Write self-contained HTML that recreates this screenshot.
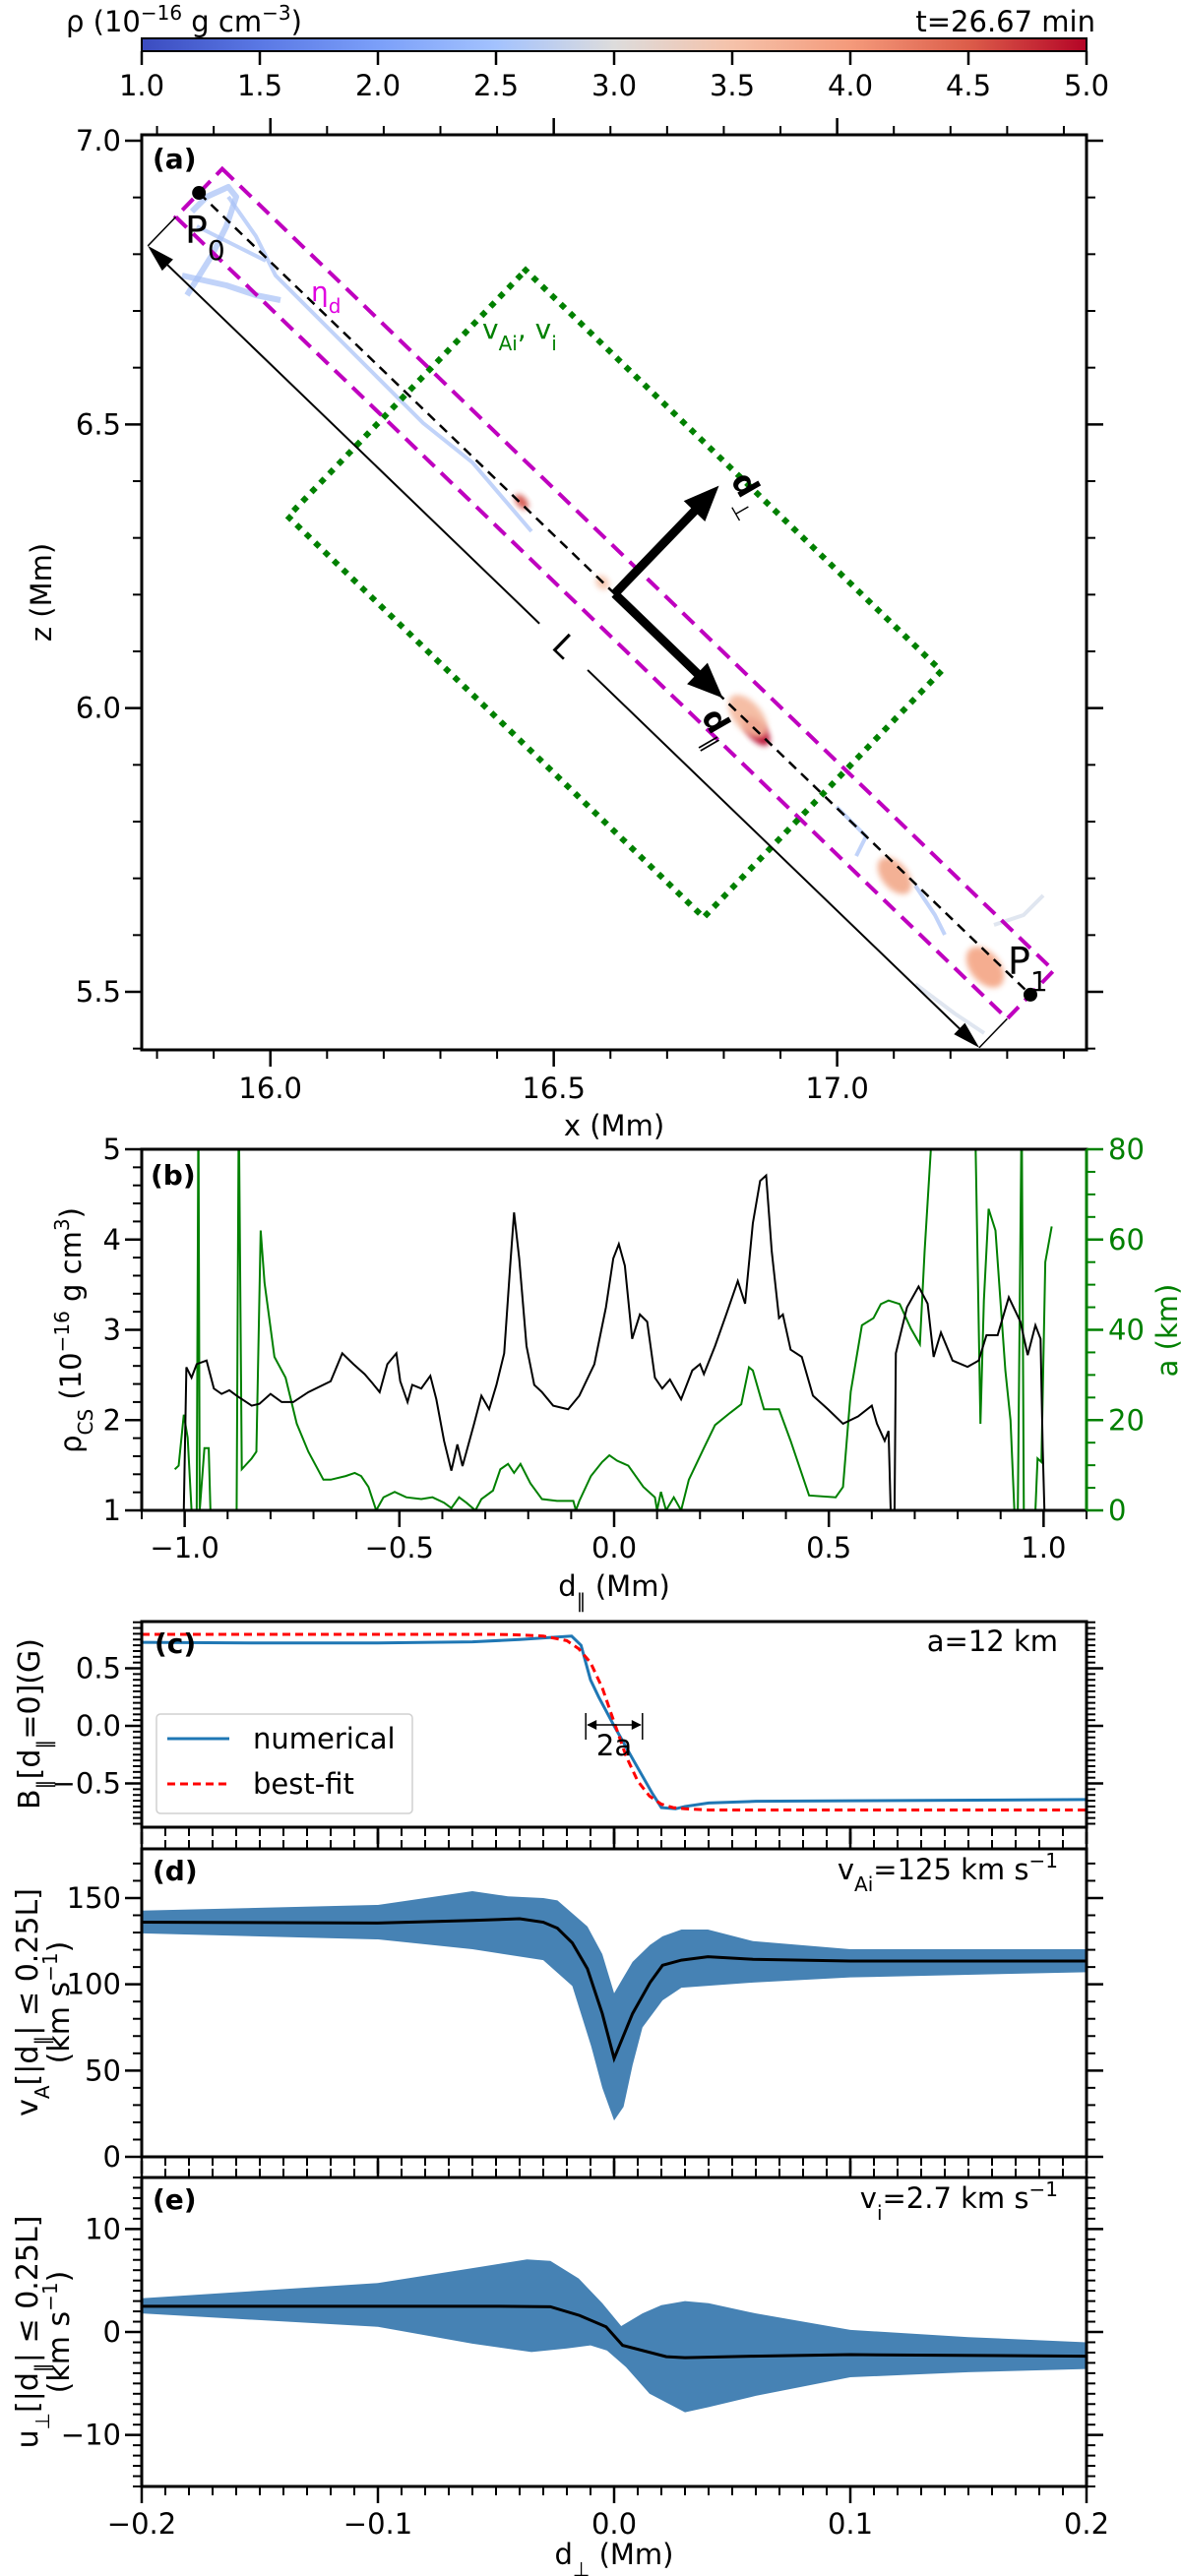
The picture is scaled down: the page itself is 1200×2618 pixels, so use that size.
<!DOCTYPE html>
<html><head><meta charset="utf-8"><title>Current sheet figure</title>
<style>
html,body{margin:0;padding:0;background:#fff;}
svg{display:block;font-family:"DejaVu Sans","Liberation Sans",sans-serif;}
</style></head>
<body>
<svg id="fig" width="1200" height="2618" viewBox="0 0 1200 2618" xmlns="http://www.w3.org/2000/svg">
<defs>
<linearGradient id="cw" x1="0" x2="1" y1="0" y2="0">
<stop offset="0" stop-color="#3b4cc0"/><stop offset="0.125" stop-color="#5a78e4"/><stop offset="0.25" stop-color="#7b9ff9"/><stop offset="0.375" stop-color="#a3c2fe"/><stop offset="0.5" stop-color="#dddcdc"/><stop offset="0.625" stop-color="#f5c2aa"/><stop offset="0.75" stop-color="#f49a7b"/><stop offset="0.875" stop-color="#dc5d4a"/><stop offset="1" stop-color="#b40426"/>
</linearGradient>
<filter id="blur" x="-50%" y="-50%" width="200%" height="200%"><feGaussianBlur stdDeviation="3"/></filter>
<clipPath id="clipA"><rect x="144" y="137" width="960" height="930"/></clipPath>
<clipPath id="clipB"><rect x="144" y="1168" width="960" height="367"/></clipPath>
<clipPath id="clipC"><rect x="144" y="1648" width="960" height="209"/></clipPath>
<clipPath id="clipD"><rect x="144" y="1879" width="960" height="313"/></clipPath>
<clipPath id="clipE"><rect x="144" y="2213" width="960" height="314"/></clipPath>
</defs>
</svg>
<script>
// ---------- DATA ----------
const cbTicks=[1.0,1.5,2.0,2.5,3.0,3.5,4.0,4.5,5.0];
const aXTicks=[16.0,16.5,17.0];
const aZTicks=[5.5,6.0,6.5,7.0];
const p0Data=[15.874,6.908];
const p1Data=[17.341,5.495];
const bXTicks=[-1.0,-0.5,0.0,0.5,1.0];
const bYTicks=[1,2,3,4,5];
const bY2Ticks=[0,20,40,60,80];
const rhoD=[-1.002,-0.996,-0.984,-0.972,-0.949,-0.932,-0.914,-0.896,-0.879,-0.844,-0.826,-0.8,-0.774,-0.747,-0.712,-0.66,-0.633,-0.607,-0.581,-0.563,-0.546,-0.528,-0.507,-0.498,-0.481,-0.47,-0.449,-0.428,-0.414,-0.396,-0.379,-0.365,-0.353,-0.326,-0.309,-0.291,-0.274,-0.256,-0.242,-0.233,-0.221,-0.204,-0.186,-0.168,-0.142,-0.107,-0.081,-0.046,-0.019,-0.002,0.011,0.025,0.042,0.06,0.077,0.095,0.112,0.13,0.156,0.182,0.2,0.209,0.235,0.261,0.288,0.305,0.323,0.34,0.354,0.367,0.384,0.393,0.411,0.437,0.463,0.498,0.533,0.568,0.6,0.612,0.63,0.639,0.644,0.653,0.656,0.682,0.709,0.73,0.744,0.761,0.788,0.823,0.849,0.867,0.893,0.919,0.946,0.963,0.981,0.993,0.998,1.002];
const rhoV=[1.0,2.585,2.47,2.62,2.66,2.35,2.29,2.33,2.27,2.16,2.18,2.29,2.2,2.2,2.31,2.43,2.74,2.62,2.51,2.41,2.31,2.62,2.74,2.43,2.2,2.39,2.35,2.49,2.23,1.77,1.44,1.73,1.49,1.96,2.27,2.12,2.39,2.74,3.71,4.30,3.79,2.82,2.39,2.31,2.16,2.12,2.27,2.62,3.25,3.79,3.95,3.71,2.9,3.17,3.09,2.47,2.35,2.45,2.23,2.55,2.62,2.51,2.82,3.17,3.54,3.29,4.18,4.65,4.71,3.87,3.13,3.17,2.78,2.70,2.27,2.12,1.96,2.04,2.16,1.96,1.77,1.88,1.0,1.0,2.74,3.25,3.48,3.29,2.70,2.97,2.66,2.59,2.66,2.94,2.94,3.36,3.09,2.72,3.05,2.9,1.69,1.0];
const aD=[-1.023,-1.014,-1.002,-0.993,-0.984,-0.972,-0.968,-0.965,-0.954,-0.944,-0.94,-0.879,-0.874,-0.867,-0.844,-0.833,-0.823,-0.814,-0.791,-0.765,-0.739,-0.712,-0.677,-0.66,-0.625,-0.604,-0.589,-0.572,-0.554,-0.537,-0.511,-0.484,-0.449,-0.423,-0.396,-0.379,-0.361,-0.344,-0.323,-0.309,-0.282,-0.265,-0.247,-0.233,-0.218,-0.195,-0.168,-0.133,-0.095,-0.089,-0.081,-0.054,-0.028,-0.011,0.007,0.033,0.068,0.095,0.1,0.109,0.121,0.139,0.156,0.174,0.209,0.235,0.27,0.296,0.314,0.323,0.349,0.384,0.411,0.454,0.516,0.533,0.551,0.577,0.604,0.621,0.639,0.665,0.691,0.712,0.723,0.744,0.84,0.853,0.861,0.872,0.888,0.911,0.923,0.932,0.94,0.949,0.954,0.981,0.986,0.995,1.004,1.019];
const aV=[9.1,9.9,21.2,16.1,0,0,90,0,13.8,13.8,0,0,90,9.1,11.5,13,62,50.4,34,29.4,19.2,13,6.8,6.8,7.6,8.3,7.6,5.2,0,2.9,4.1,2.9,2.5,2.9,1.7,0.5,2.9,1.7,0,2.5,4.4,9.1,10.3,8.3,10.3,6,2.5,2.1,2.1,0,2.1,7.6,10.7,12.2,11,9.9,5.2,2.9,0,4.1,0,2.9,0,6.8,13.8,18.9,21.6,23.5,31.7,31,22.4,22.4,15.4,3.3,2.9,5.2,26.3,41,42.6,45.7,46.5,45.7,40.3,36.8,57.4,90,90,19.2,46.5,66.8,62,31,20,0,0,90,0,0,11.5,10.7,55,62.9];
const cdXTicks=[-0.2,-0.1,0.0,0.1,0.2];
const cYTicks=[-0.5,0.0,0.5];
const numD=[-0.2,-0.15,-0.1,-0.06,-0.04,-0.025,-0.018,-0.014,-0.01,-0.0065,0,0.0085,0.016,0.02,0.026,0.03,0.04,0.06,0.1,0.2];
const numB=[0.725,0.72,0.72,0.73,0.75,0.77,0.78,0.70,0.40,0.25,0.0,-0.31,-0.58,-0.71,-0.72,-0.70,-0.67,-0.655,-0.65,-0.64];
const fitD=[-0.2,-0.05,-0.04,-0.03,-0.025,-0.02,-0.015,-0.01,-0.005,0,0.005,0.01,0.015,0.02,0.025,0.03,0.04,0.2];
const fitB=[0.795,0.795,0.79,0.78,0.76,0.74,0.67,0.55,0.33,0.033,-0.26,-0.48,-0.61,-0.68,-0.71,-0.72,-0.73,-0.73];
const dYTicks=[0,50,100,150];
const vaMeanD=[-0.2,-0.1,-0.06,-0.04,-0.03,-0.024,-0.0177,-0.0113,-0.005,0,0.0078,0.0152,0.0205,0.0285,0.0397,0.0588,0.1,0.2];
const vaMean=[136,135.5,137,138,136,132.5,124,109,83,57,83,101,111,114,116,114.5,113.5,113.5];
const vaUpD=[-0.2,-0.1,-0.06,-0.045,-0.03,-0.024,-0.0113,-0.005,0,0.0078,0.0152,0.0205,0.0285,0.0397,0.0588,0.1,0.2];
const vaUp=[142.7,146,154,151,150,148.6,133.5,117.5,94.8,113,122.8,127.8,131.7,131.7,125,120.3,120.3];
const vaLoD=[-0.2,-0.1,-0.06,-0.03,-0.0177,-0.0097,-0.005,0,0.004,0.0078,0.012,0.0205,0.0285,0.0588,0.1,0.2];
const vaLo=[129.5,126,120.3,114,99,64,40,21,29,53,75,90.7,98,101,104,107];
const eYTicks=[-10,0,10];
const uMeanD=[-0.2,-0.1,-0.05,-0.027,-0.0146,-0.0034,0.0036,0.0221,0.03,0.0588,0.1,0.2];
const uMean=[2.5,2.5,2.5,2.45,1.6,0.5,-1.3,-2.4,-2.5,-2.35,-2.2,-2.35];
const uUpD=[-0.2,-0.1,-0.06,-0.0369,-0.027,-0.015,-0.005,0.003,0.012,0.02,0.03,0.04,0.06,0.1,0.15,0.2];
const uUp=[3.27,4.75,6.2,7.05,6.9,5.2,2.8,0.57,1.8,2.6,3.0,2.8,1.8,0.2,-0.5,-1.0];
const uLoD=[-0.2,-0.1,-0.06,-0.035,-0.02,-0.01,-0.003,0.005,0.015,0.03,0.04,0.06,0.1,0.15,0.2];
const uLo=[1.8,0.5,-1.14,-1.95,-1.6,-1.3,-1.8,-3.4,-6.0,-7.8,-7.3,-6.2,-4.4,-3.9,-3.6];

// ---------- HELPERS ----------
const NS='http://www.w3.org/2000/svg';
const svg=document.getElementById('fig');
function el(tag,attrs,parent){const e=document.createElementNS(NS,tag);for(const k in attrs)e.setAttribute(k,attrs[k]);(parent||svg).appendChild(e);return e;}
function lin(d0,d1,p0,p1){return v=>p0+(v-d0)*(p1-p0)/(d1-d0);}
function rng(a,b,s){const r=[];const n=Math.round((b-a)/s);for(let i=0;i<=n;i++)r.push(a+i*s);return r;}
function group(name,clip){const g=el('g',clip?{'clip-path':'url(#'+clip+')'}:{});return g;}
function txt(x,y,s,opts,parent){const t=el('text',Object.assign({x:x,y:y,'font-size':29,fill:'#000'},opts||{}),parent);t.textContent=s;return t;}
function tk(g,x1,y1,x2,y2,w,col){const t=el('line',{x1:x1,y1:y1,x2:x2,y2:y2,stroke:col||'#000','stroke-width':w},g);return t;}
function fmt(v,d){return v.toFixed(d).replace('-','\u2212');}

function frame(ax,name){const r=el('rect',{x:ax.x0,y:ax.y0,width:ax.x1-ax.x0,height:ax.y1-ax.y0,fill:'none',stroke:'#000','stroke-width':3});}
function xticks(ax,sx,lo,hi,maj,minr,sides,name){
  const g=group(name);
  rng(lo,hi,minr).forEach(v=>{const isMaj=Math.abs(v/maj-Math.round(v/maj))<1e-6;const L=isMaj?17:9;const x=sx(v);if(x<ax.x0-1||x>ax.x1+1)return;
    sides.forEach(s=>{const t=(s==='b')?tk(g,x,ax.y1,x,ax.y1+L,isMaj?2.5:2):tk(g,x,ax.y0,x,ax.y0-L,isMaj?2.5:2);});});
}
function yticks(ax,sy,lo,hi,maj,minr,sides,name,col){
  const g=group(name);
  rng(lo,hi,minr).forEach(v=>{const isMaj=Math.abs(v/maj-Math.round(v/maj))<1e-6;const L=isMaj?17:9;const y=sy(v);if(y<ax.y0-1||y>ax.y1+1)return;
    sides.forEach(s=>{const t=(s==='l')?tk(g,ax.x0,y,ax.x0-L,y,isMaj?2.5:2):tk(g,ax.x1,y,ax.x1+L,y,isMaj?2.5:2,col);});});
}
function path(xs,ys,sx,sy){return xs.map((v,i)=>(i?'L':'M')+sx(v).toFixed(2)+','+sy(ys[i]).toFixed(2)).join(' ');}

// ---------- COLORBAR ----------
const cbx=lin(1,5,144,1104);
const cb=el('rect',{x:144,y:39,width:960,height:13,fill:'url(#cw)',stroke:'#000','stroke-width':2});


const cbt=group('colorbar-ticks');
cbTicks.forEach(v=>{const t=tk(cbt,cbx(v),52,cbx(v),66,2.5);
  const l=txt(cbx(v),97,v.toFixed(1),{'text-anchor':'middle'},cbt);});
const cbTitle=el('text',{x:67,y:32,'font-size':29});


cbTitle.innerHTML='ρ (10<tspan baseline-shift="super" font-size="20">−16</tspan> g cm<tspan baseline-shift="super" font-size="20">−3</tspan>)';
const tLab=txt(1113,32,'t=26.67 min',{'text-anchor':'end'});



// ---------- PANEL A ----------
const A={x0:144,x1:1104,y0:137,y1:1067};
const sxA=lin(15.773,17.440,A.x0,A.x1), szA=lin(7.0104,5.3977,A.y0,A.y1);
const gA=group('panel-a-content','clipA');
const P0=[sxA(p0Data[0]),szA(p0Data[1])], P1=[sxA(p1Data[0]),szA(p1Data[1])];
const Lpx=Math.hypot(P1[0]-P0[0],P1[1]-P0[1]);
const u=[(P1[0]-P0[0])/Lpx,(P1[1]-P0[1])/Lpx], n=[u[1],-u[0]];
const C=[(P0[0]+P1[0])/2,(P0[1]+P1[1])/2];
const pxPerMm=(A.x1-A.x0)/(17.440-15.773);
function pt(a,b){return [C[0]+u[0]*a+n[0]*b, C[1]+u[1]*a+n[1]*b];}
function rectPts(hl,hw){return [pt(-hl,hw),pt(hl,hw),pt(hl,-hw),pt(-hl,-hw)].map(p=>p.map(v=>v.toFixed(1)).join(',')).join(' ');}
const blobs=el('g',{},gA);


const streaks=[[[190,300],[215,260],[230,230],[240,200],[232,190],[210,200],[195,215]],[[185,280],[230,290],[260,300],[285,305]],[[232,200],[260,240],[280,280],[300,300],[330,330],[380,380],[430,430],[480,470],[540,540]],[[200,230],[240,250],[270,265]],[[850,820],[880,850],[870,870]],[[930,900],[950,930],[960,950]],[[1060,910],[1040,930],[1010,940]],[[930,1000],[970,1030],[1000,1050]]];
streaks.forEach((s,i)=>{const p=el('polyline',{points:s.map(q=>q.join(',')).join(' '),fill:'none',stroke:i>5?'#d3dbea':'#a7c1f7','stroke-width':i<2?6:4,'stroke-linejoin':'round',opacity:0.7},blobs);});
const spots=[[530,510,5,9,'#d1493f'],[769,743,9,18,'#b40426'],[760,728,14,26,'#f4b79c'],[909,890,13,22,'#f2a98a'],[1001,983,15,24,'#f4a584'],[612,592,6,8,'#f5c2aa']];
spots.forEach(s=>{const e=el('ellipse',{cx:s[0],cy:s[1],rx:s[2],ry:s[3],fill:s[4],transform:'rotate(-40 '+s[0]+' '+s[1]+')',filter:'url(#blur)',opacity:0.9},blobs);});
const mag=el('polygon',{points:rectPts(Lpx/2,0.059*pxPerMm),fill:'none',stroke:'#bf00bf','stroke-width':4,'stroke-dasharray':'16 9'},gA);


const grn=el('polygon',{points:rectPts(Lpx/4,0.302*pxPerMm),fill:'none',stroke:'#008000','stroke-width':6,'stroke-dasharray':'0.1 13','stroke-linecap':'square'},gA);


const cl=el('line',{x1:P0[0],y1:P0[1],x2:P1[0],y2:P1[1],stroke:'#000','stroke-width':2.5,'stroke-dasharray':'10 7'},gA);


const off=-0.13*pxPerMm, hw=0.059*pxPerMm;
const Lg=el('g',{},gA);


function seg(a,b,c,d,w){const p=pt(a,b),q=pt(c,d);return el('line',{x1:p[0],y1:p[1],x2:q[0],y2:q[1],stroke:'#000','stroke-width':w},Lg);}
seg(-Lpx/2+20,off,-34,off,2);seg(34,off,Lpx/2-20,off,2);
seg(-Lpx/2,off,-Lpx/2,-hw,1.5);seg(Lpx/2,off,Lpx/2,-hw,1.5);
function head(a,b,dir,len,wid,parent){const tip=pt(a,b),bl=pt(a-dir*len,b+wid),br=pt(a-dir*len,b-wid);return el('polygon',{points:[tip,bl,br].map(p=>p.join(',')).join(' '),fill:'#000'},parent);}
head(-Lpx/2,off,-1,28,8,Lg);head(Lpx/2,off,1,28,8,Lg);
const Lc=pt(0,off);
const Lt=txt(Lc[0],Lc[1]+10,'L',{'text-anchor':'middle','font-size':32,transform:'rotate(44 '+Lc[0]+' '+Lc[1]+')'},Lg);


const arrLen=0.265*pxPerMm;
const dg=el('g',{},gA);


const e1=pt(0,arrLen-32), e2=pt(arrLen-32,0);
el('line',{x1:C[0],y1:C[1],x2:e1[0],y2:e1[1],stroke:'#000','stroke-width':9},dg);
el('line',{x1:C[0],y1:C[1],x2:e2[0],y2:e2[1],stroke:'#000','stroke-width':9},dg);
[[pt(0,arrLen),pt(-15,arrLen-36),pt(15,arrLen-36)],[pt(arrLen,0),pt(arrLen-36,15),pt(arrLen-36,-15)]].forEach(h=>el('polygon',{points:h.map(p=>p.join(',')).join(' '),fill:'#000'},dg));
const dp=el('text',{x:742,y:488,'font-size':32,'font-weight':'bold',transform:'rotate(60 742 488)'},dg);


dp.innerHTML='d<tspan baseline-shift="sub" font-size="22" font-weight="normal">⊥</tspan>';
const dpl=el('text',{x:712,y:728,'font-size':32,'font-weight':'bold',transform:'rotate(60 712 728)'},dg);


dpl.innerHTML='d<tspan baseline-shift="sub" font-size="22" font-weight="normal">∥</tspan>';
[[P0,'p0'],[P1,'p1']].forEach(q=>{const c=el('circle',{cx:q[0][0],cy:q[0][1],r:7,fill:'#000'},gA);});
const p0l=el('text',{x:188,y:247,'font-size':38},gA);


p0l.innerHTML='P<tspan baseline-shift="sub" font-size="28">0</tspan>';
const p1l=el('text',{x:1024,y:990,'font-size':38},gA);


p1l.innerHTML='P<tspan baseline-shift="sub" font-size="28">1</tspan>';
const eta=el('text',{x:316,y:306,'font-size':28,fill:'#e000e0'},gA);


eta.innerHTML='η<tspan baseline-shift="sub" font-size="20">d</tspan>';
const vlab=el('text',{x:490,y:344,'font-size':28,fill:'#008000'},gA);


vlab.innerHTML='v<tspan baseline-shift="sub" font-size="20">Ai</tspan>, v<tspan baseline-shift="sub" font-size="20">i</tspan>';
frame(A,'panel-a-frame');
xticks(A,sxA,15.8,17.4,0.5,0.1,['b','t'],'panel-a-x-ticks');
yticks(A,szA,5.4,7.0,0.5,0.1,['l','r'],'panel-a-y-ticks');
aXTicks.forEach(v=>{const t=txt(sxA(v),1116,v.toFixed(1),{'text-anchor':'middle'});});
aZTicks.forEach(v=>{const t=txt(123,szA(v)+10,v.toFixed(1),{'text-anchor':'end'});});
const aXl=txt(624,1154,'x (Mm)',{'text-anchor':'middle'});


const aYl=txt(0,0,'z (Mm)',{'text-anchor':'middle',transform:'translate(52,602) rotate(-90)'});


const aTag=txt(155,171,'(a)',{'font-weight':'bold','font-size':28});



// ---------- PANEL B ----------
const B={x0:144,x1:1104,y0:1168,y1:1535};
const sxB=lin(-1.1,1.1,B.x0,B.x1), syB=lin(1,5,B.y1,B.y0), sy2B=lin(0,80,B.y1,B.y0);
const gB=group('panel-b-content','clipB');
const gl=el('path',{d:path(aD,aV,sxB,sy2B),fill:'none',stroke:'#008000','stroke-width':2},gB);


const bl=el('path',{d:path(rhoD,rhoV,sxB,syB),fill:'none',stroke:'#000','stroke-width':2},gB);


frame(B,'panel-b-frame');
xticks(B,sxB,-1.1,1.1,0.5,0.1,['b'],'panel-b-x-ticks');
yticks(B,syB,1,5,1,0.2,['l'],'panel-b-y-ticks');
yticks(B,sy2B,0,80,20,5,['r'],'panel-b-y2-ticks','#008000');
const rsp=el('line',{x1:B.x1,y1:B.y0,x2:B.x1,y2:B.y1,stroke:'#008000','stroke-width':3});


bXTicks.forEach(v=>{const t=txt(sxB(v),1583,fmt(v,1),{'text-anchor':'middle'});});
bYTicks.forEach(v=>{const t=txt(123,syB(v)+10,String(v),{'text-anchor':'end'});});
bY2Ticks.forEach(v=>{const t=txt(1126,sy2B(v)+10,String(v),{fill:'#008000'});});
const bXl=el('text',{x:624,y:1622,'font-size':29,'text-anchor':'middle'});


bXl.innerHTML='d<tspan baseline-shift="sub" font-size="20">∥</tspan> (Mm)';
const bYl=el('text',{'font-size':29,'text-anchor':'middle',transform:'translate(82,1352) rotate(-90)'});


bYl.innerHTML='ρ<tspan baseline-shift="sub" font-size="20">CS</tspan> (10<tspan baseline-shift="super" font-size="20">−16</tspan> g cm<tspan baseline-shift="super" font-size="20">3</tspan>)';
const bY2l=txt(0,0,'a (km)',{'text-anchor':'middle',fill:'#008000',transform:'translate(1196,1352) rotate(-90)'});


const bTag=txt(153,1204,'(b)',{'font-weight':'bold','font-size':28});



// ---------- PANEL C ----------
const Cx={x0:144,x1:1104,y0:1648,y1:1857};
const sxC=lin(-0.2,0.2,Cx.x0,Cx.x1), syC=lin(-0.880,0.906,Cx.y1,Cx.y0);
const gC=group('panel-c-content','clipC');
const nl=el('path',{d:path(numD,numB,sxC,syC),fill:'none',stroke:'#1f77b4','stroke-width':3},gC);


const fl=el('path',{d:path(fitD,fitB,sxC,syC),fill:'none',stroke:'#ff0000','stroke-width':3,'stroke-dasharray':'8 5'},gC);


frame(Cx,'panel-c-frame');
xticks(Cx,sxC,-0.2,0.2,0.1,0.01,['b'],'panel-c-x-ticks');
yticks(Cx,syC,-0.85,0.9,0.5,0.05,['l','r'],'panel-c-y-ticks');
cYTicks.forEach(v=>{const t=txt(123,syC(v)+10,fmt(v,1),{'text-anchor':'end'});});
const cYl=el('text',{'font-size':30,'text-anchor':'middle',transform:'translate(40,1752) rotate(-90)'});


cYl.innerHTML='B<tspan baseline-shift="sub" font-size="20">∥</tspan>[d<tspan baseline-shift="sub" font-size="20">∥</tspan>=0](G)';
const cTag=txt(157,1680,'(c)',{'font-weight':'bold','font-size':28});


const aLab=txt(1075,1678,'a=12 km',{'text-anchor':'end'});


const wg=group('width-annotation');
const xa=sxC(-0.012), xb=sxC(0.012);
tk(wg,xa,1741,xa,1768,1.5);tk(wg,xb,1741,xb,1768,1.5);tk(wg,xa+2,1753,xb-2,1753,1.5);
el('polygon',{points:(xa+1)+',1753 '+(xa+11)+',1748 '+(xa+11)+',1758',fill:'#000'},wg);
el('polygon',{points:(xb-1)+',1753 '+(xb-11)+',1748 '+(xb-11)+',1758',fill:'#000'},wg);
txt((xa+xb)/2,1784,'2a',{'text-anchor':'middle'},wg);
const leg=el('rect',{x:159,y:1742,width:260,height:101,rx:4,fill:'#fff','fill-opacity':0.85,stroke:'#d0d0d0','stroke-width':1.5});


const le1=el('line',{x1:170,y1:1767,x2:233,y2:1767,stroke:'#1f77b4','stroke-width':3});


const lt1=txt(257,1777,'numerical');


const le2=el('line',{x1:170,y1:1813,x2:233,y2:1813,stroke:'#ff0000','stroke-width':3,'stroke-dasharray':'8 5'});


const lt2=txt(257,1823,'best-fit');



// ---------- PANEL D ----------
const D={x0:144,x1:1104,y0:1879,y1:2192};
const sxD=sxC, syD=lin(0,178.5,D.y1,D.y0);
const gD=group('panel-d-content','clipD');
const bandD=el('path',{d:path(vaUpD,vaUp,sxD,syD)+' '+path(vaLoD.slice().reverse(),vaLo.slice().reverse(),sxD,syD).replace('M','L')+' Z',fill:'#4682b4'},gD);


const mD=el('path',{d:path(vaMeanD,vaMean,sxD,syD),fill:'none',stroke:'#000','stroke-width':3},gD);


frame(D,'panel-d-frame');
xticks(D,sxD,-0.2,0.2,0.1,0.01,['t','b'],'panel-d-x-ticks');
yticks(D,syD,0,170,50,10,['l','r'],'panel-d-y-ticks');
dYTicks.forEach(v=>{const t=txt(123,syD(v)+10,String(v),{'text-anchor':'end'});});
const dYl=el('text',{'font-size':30,'text-anchor':'middle',transform:'translate(38,2035) rotate(-90)'});


dYl.innerHTML='v<tspan baseline-shift="sub" font-size="20">A</tspan>[|d<tspan baseline-shift="sub" font-size="20">∥</tspan>| ≤ 0.25L]';
const dYl2=el('text',{'font-size':30,'text-anchor':'middle',transform:'translate(70,2035) rotate(-90)'});


dYl2.innerHTML='(km s<tspan baseline-shift="super" font-size="20">−1</tspan>)';
const dTag=txt(155,1911,'(d)',{'font-weight':'bold','font-size':28});


const vaL=el('text',{x:1075,y:1910,'font-size':29,'text-anchor':'end'});


vaL.innerHTML='v<tspan baseline-shift="sub" font-size="20">Ai</tspan>=125 km s<tspan baseline-shift="super" font-size="20">−1</tspan>';

// ---------- PANEL E ----------
const E={x0:144,x1:1104,y0:2213,y1:2527};
const sxE=sxC, syE=lin(-15,15,E.y1,E.y0);
const gE=group('panel-e-content','clipE');
const bandE=el('path',{d:path(uUpD,uUp,sxE,syE)+' '+path(uLoD.slice().reverse(),uLo.slice().reverse(),sxE,syE).replace('M','L')+' Z',fill:'#4682b4'},gE);


const mE=el('path',{d:path(uMeanD,uMean,sxE,syE),fill:'none',stroke:'#000','stroke-width':3},gE);


frame(E,'panel-e-frame');
xticks(E,sxE,-0.2,0.2,0.1,0.01,['t','b'],'panel-e-x-ticks');
xticks(Cx,sxC,-0.2,0.2,0.1,0.01,['b'],'panel-c-bottom-ticks');
yticks(E,syE,-15,15,10,1,['l','r'],'panel-e-y-ticks');
eYTicks.forEach(v=>{const t=txt(123,syE(v)+10,fmt(v,0),{'text-anchor':'end'});});
cdXTicks.forEach(v=>{const t=txt(sxE(v),2575,fmt(v,1),{'text-anchor':'middle'});});
const eXl=el('text',{x:624,y:2606,'font-size':29,'text-anchor':'middle'});


eXl.innerHTML='d<tspan baseline-shift="sub" font-size="20">⊥</tspan> (Mm)';
const eYl=el('text',{'font-size':30,'text-anchor':'middle',transform:'translate(38,2370) rotate(-90)'});


eYl.innerHTML='u<tspan baseline-shift="sub" font-size="20">⊥</tspan>[|d<tspan baseline-shift="sub" font-size="20">∥</tspan>| ≤ 0.25L]';
const eYl2=el('text',{'font-size':30,'text-anchor':'middle',transform:'translate(70,2370) rotate(-90)'});


eYl2.innerHTML='(km s<tspan baseline-shift="super" font-size="20">−1</tspan>)';
const eTag=txt(155,2245,'(e)',{'font-weight':'bold','font-size':28});


const viL=el('text',{x:1075,y:2244,'font-size':29,'text-anchor':'end'});


viL.innerHTML='v<tspan baseline-shift="sub" font-size="20">i</tspan>=2.7 km s<tspan baseline-shift="super" font-size="20">−1</tspan>';
</script>
</body></html>
